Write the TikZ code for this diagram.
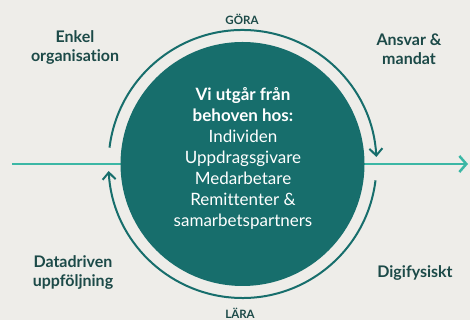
\documentclass[tikz,border=0pt]{standalone}
\usepackage{fontspec}
\setmainfont{Lato}[Ligatures={NoCommon}]
\usetikzlibrary{arrows.meta}
\definecolor{bg}{HTML}{EEEDE9}
\definecolor{teal}{HTML}{176E6C}
\definecolor{dark}{HTML}{1C4A48}
\definecolor{light}{HTML}{3BB7A5}
\tikzset{
  lbl/.style={text=dark, font=\fontsize{16}{19}\selectfont\bfseries, align=center, inner sep=0pt},
  small/.style={text=dark, font=\fontsize{11.5}{13}\selectfont\bfseries, inner sep=0pt},
  cyc/.style={draw=teal, line width=2pt, -{Straight Barb[length=7pt, width=13pt, line width=2pt]}},
}
\begin{document}
\begin{tikzpicture}[x=1pt,y=1pt]
\fill[bg] (0,0) rectangle (470,320);
\useasboundingbox (0,0) rectangle (470,320);
\coordinate (lstart) at (12,156);
\coordinate (rend) at (468,156);
\draw[light, line width=2.5pt, -{Straight Barb[length=7pt, width=16pt, line width=2.5pt]}] (lstart) -- (rend);
\node[circle, fill=teal, minimum size=244pt, inner sep=0pt] (main) at (242.5,156) {};
\node[text=white, align=center, inner sep=0pt, font=\fontsize{17}{21}\selectfont] (txt) at (243,162) {%
  {\bfseries Vi utgår från}\\ {\bfseries behoven hos:}\\ Individen\\ Uppdragsgivare\\ Medarbetare\\ Remittenter \&\\ samarbetspartners};
\draw[cyc] (main.center) ++(173:134) arc[start angle=173, end angle=3, radius=134];
\draw[cyc] (main.center) ++(-7:134) arc[start angle=-7, end angle=-177, radius=134];
\node[small] (gora) at (242,301) {GÖRA};
\node[small, anchor=south] (lara) at (240,1) {LÄRA};
\node[lbl] (enkel) at (75,272) {Enkel\\organisation};
\node[lbl] (ansvar) at (409,271) {Ansvar \&\\mandat};
\node[lbl] (data) at (73,47) {Datadriven\\uppföljning};
\node[lbl] (digi) at (415,47) {Digifysiskt};
\end{tikzpicture}
\end{document}
